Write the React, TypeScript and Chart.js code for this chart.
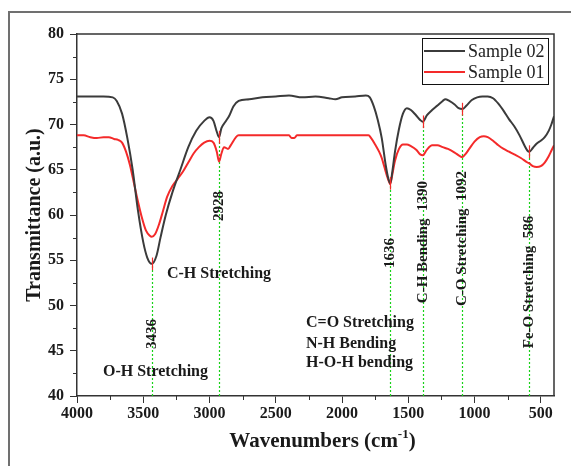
import React, { useEffect, useRef } from "react";
import { Chart, registerables } from "chart.js";

Chart.register(...registerables);

// ---- data ----
const S02_WAVENUMBERS = [
  4000, 3800, 3730, 3700, 3660, 3620, 3580, 3540, 3500, 3470, 3436, 3400, 3370, 3330, 3280, 3220, 3160, 3100,
  3040, 3000, 2970, 2945, 2928, 2910, 2880, 2850, 2820, 2780, 2700, 2600, 2500, 2400, 2300, 2200, 2100, 2050,
  2000, 1900, 1820, 1790, 1760, 1730, 1700, 1670, 1650, 1636, 1620, 1600, 1570, 1540, 1510, 1480, 1440, 1410,
  1390, 1360, 1320, 1280, 1240, 1220, 1190, 1150, 1120, 1092, 1060, 1020, 980, 940, 900, 860, 820, 780, 740,
  700, 660, 620, 600, 586, 560, 530, 500, 470, 440, 420, 400,
];
const S02_VALUES = [
  73.1, 73.1, 73.0, 72.6, 71.2, 68.5, 65.0, 60.5, 57.0, 55.3, 54.6, 55.5, 57.5, 60.0, 62.5, 65.0, 67.5, 69.3,
  70.4, 70.8, 70.4, 69.2, 68.6, 69.6, 70.3, 71.0, 72.0, 72.6, 72.8, 73.0, 73.1, 73.2, 73.0, 73.1, 72.9, 72.8,
  73.0, 73.1, 73.2, 73.0, 72.0, 70.5, 68.5, 65.5, 64.0, 63.5, 64.8, 67.0, 69.5, 71.2, 71.8, 71.6, 71.0, 70.5,
  70.3, 71.0, 71.6, 72.1, 72.6, 72.8, 72.6, 72.2, 71.8, 71.7, 72.1, 72.7, 73.0, 73.1, 73.1, 72.9, 72.3, 71.5, 70.6,
  69.8, 68.8, 67.6, 67.1, 67.0, 67.4, 67.9, 68.2, 68.6, 69.3, 70.0, 70.9,
];
const S01_WAVENUMBERS = [
  4000, 3950, 3900, 3850, 3800, 3760, 3720, 3690, 3660, 3630, 3600, 3570, 3540, 3510, 3480, 3450, 3436, 3410,
  3380, 3350, 3320, 3280, 3240, 3200, 3160, 3120, 3080, 3040, 3000, 2970, 2945, 2928, 2910, 2890, 2860, 2840,
  2800, 2780, 2500, 2400, 2380, 2360, 2340, 2000, 1800, 1780, 1750, 1720, 1700, 1680, 1660, 1640, 1636, 1620,
  1600, 1570, 1540, 1510, 1480, 1440, 1410, 1390, 1360, 1320, 1280, 1240, 1200, 1150, 1110, 1092, 1070, 1040,
  1000, 960, 930, 900, 860, 820, 780, 740, 700, 650, 600, 586, 560, 530, 500, 470, 440, 420, 400,
];
const S01_VALUES = [
  68.8, 68.8, 68.6, 68.5, 68.6, 68.6, 68.4, 68.3, 68.0, 67.0, 65.5, 63.5, 61.5, 59.7, 58.3, 57.7, 57.6, 57.9,
  59.0, 60.5, 62.0, 63.2, 64.0, 64.8, 65.8, 66.8, 67.5, 68.0, 68.2, 68.0, 67.0, 65.9, 66.8, 67.5, 67.3, 67.7,
  68.6, 68.8, 68.8, 68.8, 68.5, 68.5, 68.8, 68.8, 68.8, 68.5, 67.8, 67.0, 66.3, 65.3, 64.3, 63.5, 63.4, 64.5,
  66.0, 67.3, 67.8, 67.8, 67.6, 67.2, 66.7, 66.6, 67.2, 67.7, 67.7, 67.5, 67.3, 66.9, 66.5, 66.4, 66.7, 67.3,
  68.1, 68.6, 68.7, 68.6, 68.2, 67.7, 67.3, 67.0, 66.7, 66.3, 65.8, 65.7, 65.4, 65.3, 65.4, 65.8, 66.5, 67.1, 67.7,
];
const SERIES_NAMES = ["Sample 02", "Sample 01"];

const X_TICKS = [4000, 3500, 3000, 2500, 2000, 1500, 1000, 500];
const X_MINOR_TICKS = [3750, 3250, 2750, 2250, 1750, 1250, 750];
const Y_TICKS = [40, 45, 50, 55, 60, 65, 70, 75, 80];
const Y_MINOR_TICKS = [42.5, 47.5, 52.5, 57.5, 62.5, 67.5, 72.5, 77.5];

const PEAKS = [3436, 2928, 1636, 1390, 1092, 586];
const PEAK_DEPTHS = [54.6, 68.6, 63.5, 70.3, 71.7, 67.0];
const PEAK_LABELS = ["3436", "2928", "1636", "C-H Bending  1390", "C-O Stretching  1092", "Fe-O Stretching  586"];

const BAND_LABELS = ["C-H Stretching", "O-H Stretching", "C=O Stretching", "N-H Bending", "H-O-H bending"];

// ---- layout (positions in data units, kept apart from the data) ----
const PEAK_LABEL_Y = [46.85, 61.0, 55.8, 57.0, 57.4, 52.6];
const BAND_LABEL_X = [3321, 3804, 2272, 2272, 2272];
const BAND_LABEL_Y = [53.5, 42.7, 48.1, 45.75, 43.65];

const SERIF = '"Liberation Serif", "Times New Roman", serif';
const DARK = "#3b3b3b";
const RED = "#f42a2a";

const decor = {
  id: "decor",
  beforeDraw(chart: any) {
    const ctx = chart.ctx;
    ctx.save();
    ctx.fillStyle = "#ffffff";
    ctx.fillRect(0, 0, chart.width, chart.height);
    ctx.strokeStyle = "#707070";
    ctx.lineWidth = 2;
    ctx.beginPath();
    ctx.moveTo(9, chart.height);
    ctx.lineTo(9, 12);
    ctx.lineTo(chart.width, 12);
    ctx.stroke();
    ctx.restore();
  },
  beforeDatasetsDraw(chart: any) {
    const ctx = chart.ctx;
    const xs = chart.scales.x;
    const ys = chart.scales.y;
    ctx.save();
    ctx.strokeStyle = "#19d119";
    ctx.lineWidth = 1.2;
    ctx.setLineDash([2, 2]);
    PEAKS.forEach((p, i) => {
      const x = Math.round(xs.getPixelForValue(p)) + 0.5;
      ctx.beginPath();
      ctx.moveTo(x, ys.getPixelForValue(40));
      ctx.lineTo(x, ys.getPixelForValue(PEAK_DEPTHS[i]));
      ctx.stroke();
    });
    ctx.restore();
  },
  afterDatasetsDraw(chart: any) {
    const ctx = chart.ctx;
    const xs = chart.scales.x;
    const ys = chart.scales.y;
    const a = chart.chartArea;
    ctx.save();
    // red peak markers
    ctx.strokeStyle = RED;
    ctx.lineWidth = 1.2;
    PEAKS.forEach((p, i) => {
      const x = Math.round(xs.getPixelForValue(p)) + 0.5;
      ctx.beginPath();
      ctx.moveTo(x, ys.getPixelForValue(PEAK_DEPTHS[i] - 0.7));
      ctx.lineTo(x, ys.getPixelForValue(PEAK_DEPTHS[i] + 0.7));
      ctx.stroke();
    });
    // frame top/right
    ctx.strokeStyle = "#333";
    ctx.lineWidth = 1.5;
    ctx.beginPath();
    ctx.moveTo(a.left, a.top);
    ctx.lineTo(a.right, a.top);
    ctx.lineTo(a.right, a.bottom);
    ctx.stroke();
    // minor ticks
    ctx.lineWidth = 1;
    X_MINOR_TICKS.forEach((v) => {
      const x = Math.round(xs.getPixelForValue(v)) + 0.5;
      ctx.beginPath();
      ctx.moveTo(x, a.bottom);
      ctx.lineTo(x, a.bottom + 4);
      ctx.stroke();
    });
    Y_MINOR_TICKS.forEach((v) => {
      const y = Math.round(ys.getPixelForValue(v)) + 0.5;
      ctx.beginPath();
      ctx.moveTo(a.left, y);
      ctx.lineTo(a.left - 4, y);
      ctx.stroke();
    });
    // rotated peak labels
    ctx.fillStyle = "#1a1a1a";
    ctx.font = `bold 15px ${SERIF}`;
    ctx.textAlign = "center";
    ctx.textBaseline = "middle";
    PEAK_LABELS.forEach((t, i) => {
      const x = xs.getPixelForValue(PEAKS[i]);
      const y = ys.getPixelForValue(PEAK_LABEL_Y[i]);
      ctx.save();
      ctx.translate(x, y);
      ctx.rotate(-Math.PI / 2);
      ctx.fillText(t, 0, 0);
      ctx.restore();
    });
    // band labels
    ctx.font = `bold 16px ${SERIF}`;
    ctx.textAlign = "left";
    BAND_LABELS.forEach((t, i) => {
      ctx.fillText(t, xs.getPixelForValue(BAND_LABEL_X[i]), ys.getPixelForValue(BAND_LABEL_Y[i]));
    });
    // legend
    const lx = a.right - 132;
    const ly = a.top + 4;
    ctx.strokeStyle = "#111";
    ctx.lineWidth = 1;
    ctx.strokeRect(lx + 0.5, ly + 0.5, 126, 46);
    [DARK, RED].forEach((c, i) => {
      const y = ly + 13 + i * 21;
      ctx.strokeStyle = c;
      ctx.lineWidth = 2;
      ctx.beginPath();
      ctx.moveTo(lx + 2, y);
      ctx.lineTo(lx + 43, y);
      ctx.stroke();
      ctx.fillStyle = "#222";
      ctx.font = `18px ${SERIF}`;
      ctx.textAlign = "left";
      ctx.fillText(SERIES_NAMES[i], lx + 46, y + 1);
    });
    // axis titles
    ctx.fillStyle = "#1a1a1a";
    ctx.font = `bold 20px ${SERIF}`;
    ctx.textBaseline = "middle";
    ctx.save();
    ctx.translate(35, (a.top + a.bottom) / 2);
    ctx.rotate(-Math.PI / 2);
    ctx.textAlign = "center";
    ctx.fillText("Transmittance (a.u.)", 0, 0);
    ctx.restore();
    const main = "Wavenumbers (cm";
    const sup = "-1";
    const close = ")";
    ctx.font = `bold 21px ${SERIF}`;
    const w1 = ctx.measureText(main).width;
    const w3 = ctx.measureText(close).width;
    ctx.font = `bold 13px ${SERIF}`;
    const w2 = ctx.measureText(sup).width;
    const total = w1 + w2 + w3;
    let tx = (a.left + a.right) / 2 + 7 - total / 2;
    const ty = 442;
    ctx.textAlign = "left";
    ctx.font = `bold 21px ${SERIF}`;
    ctx.fillText(main, tx, ty);
    tx += w1;
    ctx.font = `bold 13px ${SERIF}`;
    ctx.fillText(sup, tx, ty - 7);
    tx += w2;
    ctx.font = `bold 21px ${SERIF}`;
    ctx.fillText(close, tx, ty);
    ctx.restore();
  },
};

export default function App() {
  const ref = useRef<HTMLCanvasElement | null>(null);
  useEffect(() => {
    if (!ref.current) return;
    const chart = new Chart(ref.current, {
      type: "line",
      data: {
        datasets: [
          {
            label: SERIES_NAMES[0],
            data: S02_WAVENUMBERS.map((w, i) => ({ x: w, y: S02_VALUES[i] })),
            borderColor: DARK,
            borderWidth: 2,
            pointRadius: 0,
            cubicInterpolationMode: "monotone",
          },
          {
            label: SERIES_NAMES[1],
            data: S01_WAVENUMBERS.map((w, i) => ({ x: w, y: S01_VALUES[i] })),
            borderColor: RED,
            borderWidth: 2,
            pointRadius: 0,
            cubicInterpolationMode: "monotone",
          },
        ],
      },
      options: {
        responsive: false,
        animation: false,
        layout: { padding: { top: 34, right: 17, left: 0, bottom: 0 } },
        plugins: { legend: { display: false }, tooltip: { enabled: false } },
        scales: {
          x: {
            type: "linear",
            reverse: true,
            min: 400,
            max: 4000,
            afterBuildTicks: (s: any) => {
              s.ticks = X_TICKS.map((v) => ({ value: v }));
            },
            afterFit: (s: any) => {
              s.height = 70;
              s.paddingLeft = 0;
              s.paddingRight = 0;
            },
            grid: { display: true, drawOnChartArea: false, drawTicks: true, tickLength: 7, color: "#333", lineWidth: 1 },
            border: { display: true, color: "#333", width: 1.5 },
            ticks: {
              autoSkip: false,
              maxRotation: 0,
              padding: 1,
              color: "#1a1a1a",
              font: { family: SERIF, size: 16, weight: "bold" },
              callback: (v: any) => String(v),
            },
          },
          y: {
            type: "linear",
            min: 40,
            max: 80,
            afterBuildTicks: (s: any) => {
              s.ticks = Y_TICKS.map((v) => ({ value: v }));
            },
            afterFit: (s: any) => {
              s.width = 77;
              s.paddingTop = 0;
              s.paddingBottom = 0;
            },
            grid: { display: true, drawOnChartArea: false, drawTicks: true, tickLength: 7, color: "#333", lineWidth: 1 },
            border: { display: true, color: "#333", width: 1.5 },
            ticks: {
              autoSkip: false,
              padding: 6,
              color: "#1a1a1a",
              font: { family: SERIF, size: 16, weight: "bold" },
              callback: (v: any) => String(v),
            },
          },
        },
      },
      plugins: [decor],
    } as any);
    return () => chart.destroy();
  }, []);
  return (
    <div style={{ position: "absolute", left: 0, top: 0, width: 571, height: 466 }}>
      <canvas ref={ref} width={571} height={466} style={{ display: "block" }} />
    </div>
  );
}
